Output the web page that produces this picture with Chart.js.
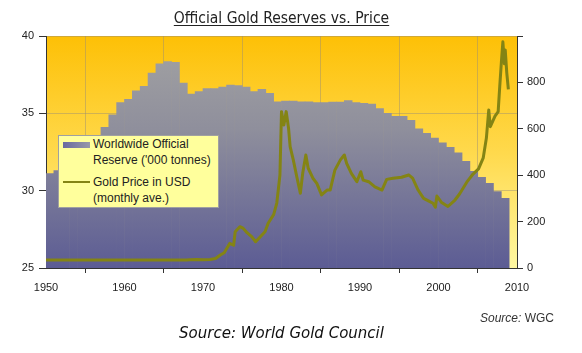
<!DOCTYPE html>
<html>
<head>
<meta charset="utf-8">
<script src="https://cdn.jsdelivr.net/npm/chart.js@4.4.1/dist/chart.umd.min.js"></script>
<style>
  html, body { margin: 0; padding: 0; background: #fff; }
  #wrap { position: relative; width: 582px; height: 353px; overflow: hidden; }
  #c { position: absolute; left: 0; top: 0; }
  .txt { position: absolute; white-space: nowrap; color: #222; }
  #title { left: 46px; width: 471px; top: 9px; text-align: center; font: 15.5px "Liberation Sans Narrow", "DejaVu Sans Condensed", "Liberation Sans", Arial, sans-serif; text-decoration: underline; text-underline-offset: 2px; }
  #src1 { right: 28px; top: 311px; font: 12px "Liberation Sans", Arial, sans-serif; color: #333; }
  #src2 { left: 46px; width: 471px; top: 324px; text-align: center; font: italic 15px "DejaVu Sans", Verdana, sans-serif; color: #111; }
  #legend { position: absolute; left: 58px; top: 135px; width: 159px; height: 71px; background: #ffff9c; border: 1px solid #a0a0a0; font: 12px "Liberation Sans", Arial, sans-serif; color: #222; }
  .item { position: absolute; left: 0; }
  .lab { position: absolute; left: 34px; line-height: 16px; white-space: nowrap; }
</style>
</head>
<body>
<div id="wrap">
  <canvas id="c" width="582" height="353"></canvas>
  <div class="txt" id="title">Official Gold Reserves vs. Price</div>
  <div class="txt" id="src1"><i>Source:</i> WGC</div>
  <div class="txt" id="src2">Source: World Gold Council</div>
  <div id="legend"></div>
</div>
<script>
// annual official reserves ('000 tonnes), bars span one year each
const reserveYears = [1950, 1951, 1952, 1953, 1954, 1955, 1956, 1957, 1958, 1959,
  1960, 1961, 1962, 1963, 1964, 1965, 1966, 1967, 1968, 1969,
  1970, 1971, 1972, 1973, 1974, 1975, 1976, 1977, 1978, 1979,
  1980, 1981, 1982, 1983, 1984, 1985, 1986, 1987, 1988, 1989,
  1990, 1991, 1992, 1993, 1994, 1995, 1996, 1997, 1998, 1999,
  2000, 2001, 2002, 2003, 2004, 2005, 2006, 2007, 2008];
const reserveTonnes = [31.1, 31.3, 31.8, 32.2, 32.6, 33.0, 33.5, 34.1, 34.9, 35.7,
  35.9, 36.45, 36.75, 37.6, 38.2, 38.35, 38.3, 36.95, 36.25, 36.4,
  36.6, 36.6, 36.7, 36.83, 36.8, 36.7, 36.4, 36.55, 36.3, 35.75,
  35.8, 35.8, 35.75, 35.75, 35.7, 35.7, 35.72, 35.72, 35.82, 35.7,
  35.65, 35.6, 35.3, 35.0, 34.8, 34.8, 34.55, 34.0, 33.7, 33.4,
  33.1, 32.8, 32.45, 31.9, 31.25, 30.87, 30.48, 29.94, 29.5];

// gold price, monthly average (decimal year, USD)
const priceDates = [1950.0, 1967.9, 1968.3, 1969.2, 1970.0, 1970.9, 1971.6, 1972.2, 1972.7, 1973.4,
  1973.9, 1974.1, 1974.7, 1975.1, 1975.5, 1976.2, 1976.7, 1977.3, 1977.9, 1978.3,
  1979.0, 1979.4, 1979.8, 1980.0, 1980.3, 1980.6, 1980.9, 1981.1, 1981.5, 1981.9,
  1982.4, 1982.7, 1983.1, 1983.4, 1984.0, 1984.5, 1985.1, 1985.8, 1986.2, 1986.8,
  1987.5, 1988.0, 1988.3, 1988.9, 1989.6, 1990.1, 1990.4, 1991.1, 1991.9, 1992.8,
  1993.4, 1994.2, 1995.3, 1996.2, 1996.7, 1997.4, 1998.1, 1998.9, 1999.3, 1999.6,
  1999.8, 2000.4, 2001.2, 2002.1, 2002.7, 2003.6, 2004.4, 2005.1, 2005.7, 2006.1,
  2006.4, 2006.6, 2007.2, 2007.6, 2007.8, 2008.0, 2008.2, 2008.4, 2008.5, 2008.7,
  2008.9];
const priceUSD = [35, 35, 36, 37, 36, 37, 41, 56, 66, 106,
  98, 156, 178, 172, 156, 135, 113, 135, 156, 193,
  230, 280, 400, 674, 616, 674, 602, 523, 466, 401,
  322, 408, 487, 430, 387, 365, 315, 336, 336, 422,
  466, 487, 451, 408, 372, 415, 379, 372, 350, 336,
  382, 387, 391, 401, 387, 336, 300, 286, 279, 262,
  310, 282, 265, 293, 320, 370, 405, 427, 475, 560,
  681, 609, 655, 674, 782, 882, 975, 880, 940, 840,
  770];

const reserveLabel = ["Worldwide Official", "Reserve ('000 tonnes)"];
const priceLabel = ["Gold Price in USD", "(monthly ave.)"];

Chart.defaults.font.family = "'Liberation Sans', Arial, sans-serif";
Chart.defaults.font.size = 11;
Chart.defaults.color = "#222";

function barFill(ctx) {
  const a = ctx.chart.chartArea;
  if (!a) return "#8a8a9c";
  const g = ctx.chart.ctx.createLinearGradient(0, a.top, 0, a.bottom);
  g.addColorStop(0, "#a3a3a3");
  g.addColorStop(0.4, "#8f8f9c");
  g.addColorStop(1, "#5c5c94");
  return g;
}

// plot area background
const plotBg = {
  id: "plotBg",
  beforeDraw(chart) {
    const { ctx, chartArea: a } = chart;
    const g = ctx.createLinearGradient(0, a.top, 0, a.bottom);
    g.addColorStop(0, "#fdc006");
    g.addColorStop(0.5, "#ffd94c");
    g.addColorStop(1, "#fff8a2");
    ctx.save();
    ctx.fillStyle = g;
    ctx.fillRect(a.left, a.top, a.right - a.left, a.bottom - a.top);
    ctx.restore();
  },
};

const grid = "rgba(150, 140, 120, 0.45)";

const config = {
  type: "bar",
  data: {
    datasets: [
      {
        type: "line",
        label: priceLabel.join(" "),
        data: priceDates.map((d, i) => ({ x: d, y: priceUSD[i] })),
        yAxisID: "y2",
        borderColor: "#848414",
        borderWidth: 3,
        pointRadius: 0,
        tension: 0,
        borderJoinStyle: "round",
        order: 1,
      },
      {
        label: reserveLabel.join(" "),
        data: reserveYears.map((yr, i) => ({ x: yr + 0.5, y: reserveTonnes[i] })),
        yAxisID: "y",
        backgroundColor: barFill,
        borderWidth: 0,
        barPercentage: 1,
        categoryPercentage: 1,
        order: 2,
      },
    ],
  },
  options: {
    responsive: false,
    animation: false,
    devicePixelRatio: 1,
    layout: { padding: { top: 36, left: 0, right: 0, bottom: 0 } },
    plugins: {
      legend: { display: false },
      title: { display: false },
      tooltip: { enabled: false },
    },
    scales: {
      x: {
        type: "linear",
        min: 1950,
        max: 2010,
        offset: false,
        ticks: { stepSize: 10, padding: 8, callback: (v) => String(v), color: "#222" },
        grid: { color: grid, tickColor: "#333", tickLength: 5 },
        border: { color: "#333" },
        afterFit: (s) => { s.height = 85; },
      },
      y: {
        position: "left",
        min: 25,
        max: 40,
        ticks: { stepSize: 5, padding: 5, color: "#222" },
        grid: { color: grid, tickColor: "#333", tickLength: 7 },
        border: { color: "#333" },
        afterFit: (s) => { s.width = 46; },
      },
      y2: {
        position: "right",
        min: 0,
        max: 1000,
        ticks: { stepSize: 200, padding: 4, color: "#222", callback: (v) => (v >= 1000 ? "" : String(v)) },
        grid: { drawOnChartArea: false, tickColor: "#333", tickLength: 6 },
        border: { color: "#333" },
        afterFit: (s) => { s.width = 65; },
      },
    },
  },
  plugins: [plotBg],
};

const myChart = new Chart(document.getElementById("c"), config);

// legend box inside the plot
const lg = document.getElementById("legend");
lg.innerHTML =
  '<div class="item" style="left:4px;top:6px;width:27px;height:6px;background:linear-gradient(90deg,#6a6aa0,#9898a8);"></div>' +
  '<div class="lab" style="top:0px;">' + reserveLabel.join("<br>") + "</div>" +
  '<div class="item" style="left:4px;top:45px;width:27px;height:2px;background:#848414;"></div>' +
  '<div class="lab" style="top:38px;">' + priceLabel.join("<br>") + "</div>";
</script>
</body>
</html>
